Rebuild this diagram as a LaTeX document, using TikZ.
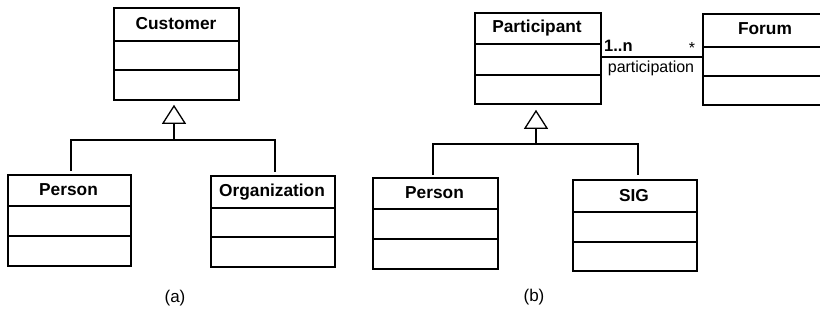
\documentclass[tikz,border=0pt]{standalone}
\usepackage{fontspec}
\setmainfont{Liberation Sans}
\usetikzlibrary{arrows.meta,calc}
\begin{document}
\begin{tikzpicture}[x=1pt,y=-1pt,
  cls/.style={draw,line width=1.8pt,inner sep=0pt,anchor=north west,fill=none},
  ttl/.style={inner sep=0pt,font=\fontsize{17.3}{20}\selectfont\bfseries},
  lbl/.style={inner sep=0pt,font=\fontsize{16}{19}\selectfont},
  conn/.style={line width=1.8pt},
  gen/.style={line width=1.8pt,-{Triangle[open,length=19pt,width=24pt,line width=1.3pt]}}]
\useasboundingbox[fill=white] (0,0) rectangle (820,324);
% (a)
\node[cls,minimum width=125,minimum height=92] (cust) at (113,7) {};
\node[ttl] (custt) at (176,24) {Customer};
\draw[conn] (cust.west |- 0,41) -- (cust.east |- 0,41);
\draw[conn] (cust.west |- 0,70) -- (cust.east |- 0,70);
\node[cls,minimum width=123,minimum height=91] (pa) at (7,174) {};
\node[ttl] (pat) at (68.5,190) {Person};
\draw[conn] (pa.west |- 0,206) -- (pa.east |- 0,206);
\draw[conn] (pa.west |- 0,236) -- (pa.east |- 0,236);
\node[cls,minimum width=124,minimum height=91] (org) at (210,175) {};
\node[ttl] (orgt) at (272,192) {Organization};
\draw[conn] (org.west |- 0,208) -- (org.east |- 0,208);
\draw[conn] (org.west |- 0,237) -- (org.east |- 0,237);
\coordinate (ja) at (174,140);
\draw[gen,shorten >=4pt] (ja) -- (ja |- cust.south);
\draw[conn,shorten <=3pt,shorten >=3pt] ($(pa.north)+(1.5,0)$) |- (ja) -| ($(org.north)+(2,0)$);
\node[lbl,font=\fontsize{17}{20}\selectfont] (la) at (175,298) {(a)};
% (b)
\node[cls,minimum width=126,minimum height=91] (part) at (474,12) {};
\node[ttl] (partt) at (537,28) {Participant};
\draw[conn] (part.west |- 0,44) -- (part.east |- 0,44);
\draw[conn] (part.west |- 0,75) -- (part.east |- 0,75);
\node[cls,minimum width=140,minimum height=91] (forum) at (702,13) {};
\node[ttl] (forumt) at (765,29) {Forum};
\draw[conn] (forum.west |- 0,47) -- (forum.east |- 0,47);
\draw[conn] (forum.west |- 0,76) -- (forum.east |- 0,76);
\draw[conn] (part.east |- 0,57) -- (forum.west |- 0,57);
\node[ttl,font=\fontsize{16.5}{19}\selectfont\bfseries,anchor=west] (m1) at (604,46) {1..n};
\node[lbl,anchor=center] (m2) at (692,48) {*};
\node[lbl] (assoc) at (651,68) {participation};
\node[cls,minimum width=125,minimum height=91] (pb) at (372,177) {};
\node[ttl] (pbt) at (434.5,193) {Person};
\draw[conn] (pb.west |- 0,209) -- (pb.east |- 0,209);
\draw[conn] (pb.west |- 0,239) -- (pb.east |- 0,239);
\node[cls,minimum width=124,minimum height=91] (sig) at (572,179) {};
\node[ttl] (sigt) at (634,196) {SIG};
\draw[conn] (sig.west |- 0,212) -- (sig.east |- 0,212);
\draw[conn] (sig.west |- 0,242) -- (sig.east |- 0,242);
\coordinate (jb) at (536,144);
\draw[gen,shorten >=5pt] (jb) -- (jb |- part.south);
\draw[conn,shorten <=2pt,shorten >=4pt] ($(pb.north)+(-2.5,0)$) |- (jb) -| ($(sig.north)+(3,0)$);
\node[lbl,font=\fontsize{17}{20}\selectfont] (lb) at (534,297) {(b)};
\end{tikzpicture}
\end{document}
